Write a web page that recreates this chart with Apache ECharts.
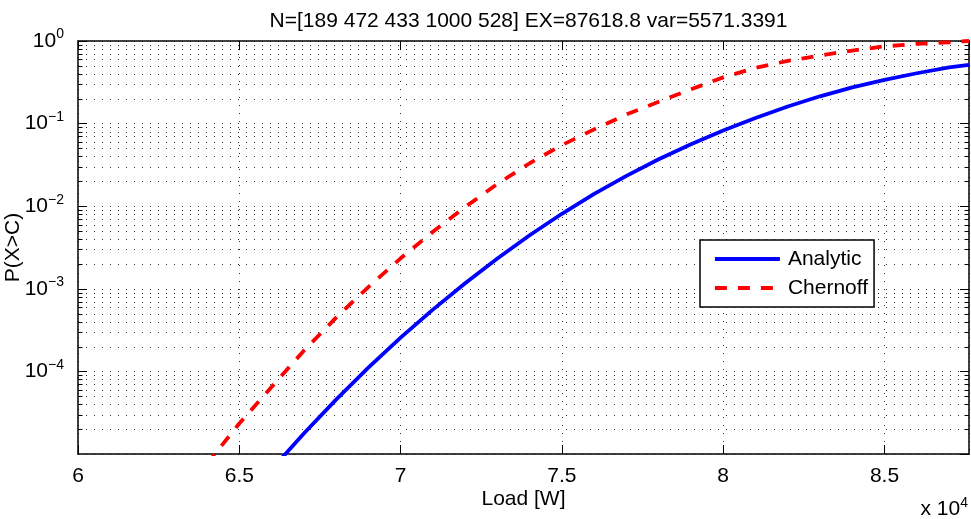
<!DOCTYPE html>
<html>
<head>
<meta charset="utf-8">
<script src="https://cdn.jsdelivr.net/npm/echarts@6/dist/echarts.min.js"></script>
<style>
html, body { margin: 0; padding: 0; background: #fff; }
#main { width: 971px; height: 519px; }
</style>
</head>
<body>
<div id="main"></div>
<script>
// values
var loadW = [64000, 65000, 66000, 67000, 68000, 69000, 70000, 71000, 72000, 73000, 74000, 75000,
             76000, 77000, 78000, 79000, 80000, 81000, 82000, 83000, 84000, 85000, 86000, 87000, 87618.8];
var analytic = [null, null, 6.5e-6, 1.77e-5, 4.56e-5, 1.11e-4, 2.56e-4, 5.6e-4, 1.17e-3, 2.33e-3, 4.45e-3, 8.1e-3,
                0.0141, 0.0233, 0.037, 0.0562, 0.0826, 0.117, 0.161, 0.214, 0.275, 0.339, 0.407, 0.479, 0.513];
var chernoff = [7.6e-6, 2.34e-5, 6.46e-5, 1.78e-4, 4.47e-4, 1.05e-3, 2.34e-3, 4.9e-3, 9.77e-3, 0.0186, 0.0331, 0.055,
                0.0851, 0.129, 0.184, 0.26, 0.363, 0.473, 0.575, 0.668, 0.767, 0.861, 0.923, 0.966, 1.0];

var titleText = 'N=[189 472 433 1000 528] EX=87618.8 var=5571.3391';
var xMin = 60000, xMax = 87618.8, xStep = 5000;
var yMin = 1e-5, yMax = 1;
var decades = [1e-5, 1e-4, 1e-3, 1e-2, 1e-1];
var minorSteps = [2, 3, 4, 5, 6, 7, 8, 9];

var FONT = '"Liberation Sans", Arial, Helvetica, sans-serif';
var dotted = { color: '#333', width: 1, type: [1, 7] };

function pairs(xs, ys) {
    var out = [];
    for (var i = 0; i < xs.length; i++) {
        if (ys[i] != null) out.push([xs[i], ys[i]]);
    }
    return out;
}

var minorVals = [];
decades.forEach(function (d) {
    minorSteps.forEach(function (m) {
        minorVals.push([xMin, parseFloat((m * d).toPrecision(3))]);
    });
});

var powRich = {
    b: { fontSize: 21, lineHeight: 21, fontFamily: FONT, color: '#000' },
    s: { fontSize: 14, lineHeight: 14, fontFamily: FONT, color: '#000', padding: [0, 0, 13, 0] }
};

function powLabel(v) {
    var e = Math.round(Math.log(v) / Math.LN10);
    return '{b|10}{s|' + (e < 0 ? '\u2212' + (-e) : e) + '}';
}

function renderMinor(params, api) {
    var cs = params.coordSys;
    var y = Math.round(api.coord([xMin, api.value(1)])[1]) + 0.5;
    var x0 = cs.x, x1 = cs.x + cs.width;
    return {
        type: 'group',
        children: [
            { type: 'line', shape: { x1: x0, y1: y, x2: x1, y2: y },
              style: { stroke: '#333', lineWidth: 1, lineDash: [1, 7] } },
            { type: 'line', shape: { x1: x0, y1: y, x2: x0 + 4.5, y2: y },
              style: { stroke: '#000', lineWidth: 1 } },
            { type: 'line', shape: { x1: x1 - 4.5, y1: y, x2: x1, y2: y },
              style: { stroke: '#000', lineWidth: 1 } }
        ]
    };
}

var chart = echarts.init(document.getElementById('main'));
chart.setOption({
    animation: false,
    backgroundColor: '#fff',
    title: {
        text: titleText,
        left: 523.5,
        top: 6,
        textAlign: 'center',
        textStyle: { fontSize: 21, fontWeight: 'normal', color: '#000', fontFamily: FONT }
    },
    grid: { left: 78, right: 2, top: 41, bottom: 65, containLabel: false, outerBoundsMode: 'none' },
    legend: {
        data: ['Analytic', 'Chernoff'],
        orient: 'vertical',
        left: 700,
        top: 240,
        itemWidth: 65,
        itemHeight: 14,
        itemGap: 8,
        padding: [8.5, 6, 8.5, 13],
        borderColor: '#000',
        borderWidth: 1.5,
        borderRadius: 0,
        backgroundColor: '#fff',
        itemStyle: { opacity: 0 },
        lineStyle: { width: 3.8 },
        textStyle: { fontSize: 21, color: '#000', fontFamily: FONT, padding: [0, 0, 0, 3] }
    },
    xAxis: [{
        type: 'value',
        position: 'bottom',
        min: xMin, max: xMax, interval: xStep,
        name: 'Load [W]',
        nameLocation: 'middle',
        nameGap: 35,
        nameMoveOverlap: false,
        nameTextStyle: { fontSize: 21, color: '#000', fontFamily: FONT },
        axisLine: { onZero: false, lineStyle: { color: '#000', width: 1.5 } },
        axisTick: { inside: true, length: 9, lineStyle: { color: '#000', width: 1 } },
        axisLabel: {
            margin: 12, fontSize: 21, color: '#000', fontFamily: FONT, showMaxLabel: false,
            formatter: function (v) { return String(v / 10000); }
        },
        splitLine: { show: true, lineStyle: dotted }
    }, {
        type: 'value',
        position: 'top',
        min: xMin, max: xMax, interval: xStep,
        axisLine: { onZero: false, lineStyle: { color: '#000', width: 1.5 } },
        axisTick: { inside: true, length: 9, lineStyle: { color: '#000', width: 1 } },
        axisLabel: { show: false },
        splitLine: { show: false }
    }],
    yAxis: [{
        type: 'log',
        logBase: 10,
        position: 'left',
        min: yMin, max: yMax,
        name: 'P(X>C)',
        nameLocation: 'middle',
        nameRotate: 90,
        nameGap: 54,
        nameMoveOverlap: false,
        nameTextStyle: { fontSize: 21, color: '#000', fontFamily: FONT },
        axisLine: { lineStyle: { color: '#000', width: 1.5 } },
        axisTick: { inside: true, length: 9, lineStyle: { color: '#000', width: 1 } },
        axisLabel: { margin: 14, showMinLabel: false, formatter: powLabel, rich: powRich },
        splitLine: { show: true, lineStyle: dotted }
    }, {
        type: 'log',
        logBase: 10,
        position: 'right',
        min: yMin, max: yMax,
        axisLine: { lineStyle: { color: '#000', width: 1.5 } },
        axisTick: { inside: true, length: 9, lineStyle: { color: '#000', width: 1 } },
        axisLabel: { show: false },
        splitLine: { show: false }
    }],
    graphic: [{
        type: 'text',
        right: 3,
        top: 496,
        style: {
            text: '{b|x 10}{s|4}',
            rich: powRich,
            fill: '#000'
        }
    }],
    series: [{
        type: 'custom',
        name: 'minor',
        silent: true,
        z: 1,
        renderItem: renderMinor,
        encode: { x: 0, y: 1 },
        data: minorVals
    }, {
        name: 'Analytic',
        type: 'line',
        z: 3,
        symbol: 'none',
        showSymbol: false,
        smooth: false,
        clip: true,
        lineStyle: { color: '#0000ff', width: 3.8 },
        itemStyle: { color: '#0000ff' },
        data: pairs(loadW, analytic)
    }, {
        name: 'Chernoff',
        type: 'line',
        z: 3,
        symbol: 'none',
        showSymbol: false,
        smooth: false,
        clip: true,
        lineStyle: { color: '#ff0000', width: 3.8, type: [12, 11] },
        itemStyle: { color: '#ff0000' },
        data: pairs(loadW, chernoff)
    }]
});
</script>
</body>
</html>
